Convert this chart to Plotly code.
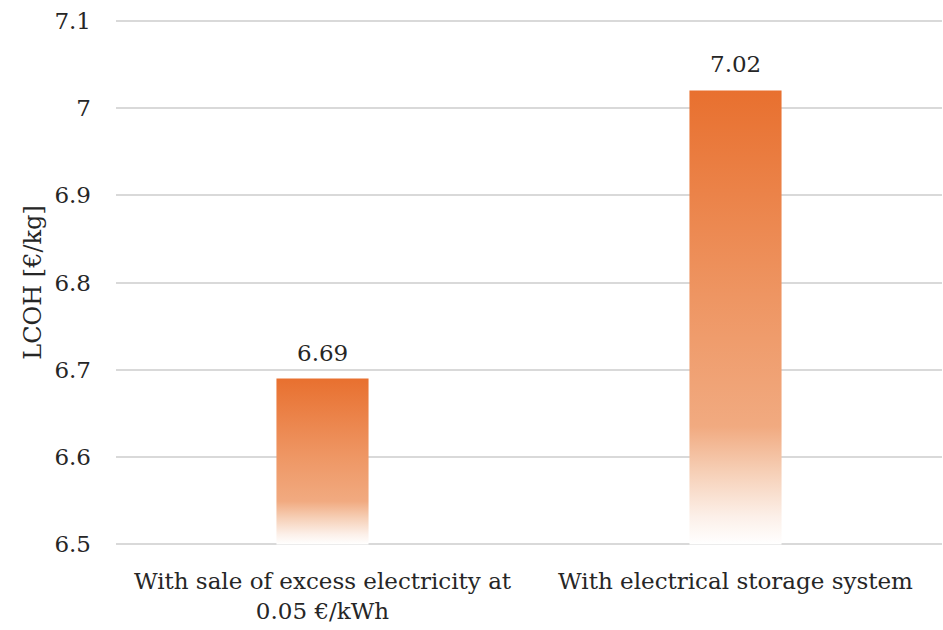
import plotly.graph_objects as go

# LCOH for the two system configurations
categories = ["With sale of excess electricity at<br>0.05 €/kWh",
              "With electrical storage system"]
lcoh = [6.69, 7.02]
value_labels = ["6.69", "7.02"]
y_ticks = [6.5, 6.6, 6.7, 6.8, 6.9, 7.0, 7.1]
y_tick_text = ["6.5", "6.6", "6.7", "6.8", "6.9", "7", "7.1"]

FONT = "Georgia, 'DejaVu Serif', serif"
TXT = "#262626"
BAR_W = 0.223
BASE = y_ticks[0]

# orange fading to white towards the bar base
grad = [[0.0, "rgba(255,255,255,1)"],
        [0.06, "#FCF0E9"],
        [0.16, "#F6CFB6"],
        [0.26, "#F1AA80"],
        [0.55, "#EE9562"],
        [1.0, "#E8702F"]]

fig = go.Figure()

xs = list(range(len(categories)))
for i, v in zip(xs, lcoh):
    fig.add_trace(go.Scatter(
        x=[i - BAR_W / 2, i - BAR_W / 2, i + BAR_W / 2, i + BAR_W / 2, i - BAR_W / 2],
        y=[BASE, v, v, BASE, BASE],
        mode="lines", line=dict(width=0),
        fill="toself",
        fillgradient=dict(type="vertical", colorscale=grad, start=BASE, stop=v),
        hoverinfo="skip", showlegend=False,
    ))

# value labels above each bar
for i, v, lab in zip(xs, lcoh, value_labels):
    fig.add_annotation(x=i, y=v, text=lab, showarrow=False,
                       yanchor="bottom", yshift=11,
                       font=dict(family=FONT, size=23, color=TXT))

fig.update_layout(
    width=943, height=630,
    margin=dict(l=116, r=1, t=18, b=83),
    paper_bgcolor="white", plot_bgcolor="white",
    font=dict(family=FONT, size=23, color=TXT),
    xaxis=dict(range=[-0.5, 1.5], tickvals=xs, ticktext=categories,
               showgrid=False, zeroline=False, showline=False,
               ticklabelstandoff=18,
               tickfont=dict(family=FONT, size=23, color=TXT)),
    yaxis=dict(range=[6.497, 7.103], tickvals=y_ticks, ticktext=y_tick_text,
               showgrid=True, gridcolor="#D9D9D9", gridwidth=1.5,
               zeroline=False, showline=False, ticks="",
               ticklabelstandoff=24,
               title=dict(text="LCOH [€/kg]", standoff=6,
                          font=dict(family=FONT, size=24, color=TXT)),
               tickfont=dict(family=FONT, size=23, color=TXT)),
)

fig.write_html("out.html")
